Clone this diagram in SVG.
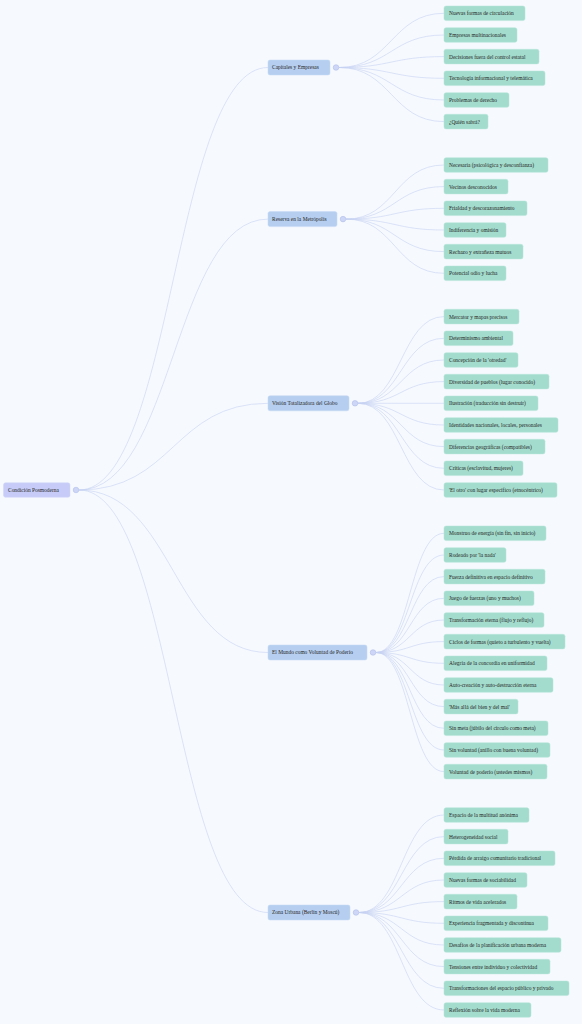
<svg xmlns="http://www.w3.org/2000/svg" width="582" height="1024" viewBox="0 0 582 1024">
<style>
.bg{fill:#f6f9fe}
.lk{fill:none;stroke:#c6d1f2;stroke-width:0.6}
.leaf rect{fill:#a3dccd;stroke:#b9e7db;stroke-width:0.5}
.l1 rect{fill:#b6cff0;stroke:#c4d8f4;stroke-width:0.5}
.root rect{fill:#c6ccf7;stroke:#d2d7fa;stroke-width:0.5}
.dot{fill:#cdd6f6;stroke:#a9b7e6;stroke-width:0.5}
text{font-family:"Liberation Serif","Times New Roman",serif;font-size:5.45px;fill:#262626}
</style>
<rect class="bg" x="0" y="0" width="582" height="1024"/>
<g id="connectors">
<path class="lk" d="M79 490 C173.5 490 173.5 67.5 268 67.5"/>
<path class="lk" d="M79 490 C173.5 490 173.5 219.1 268 219.1"/>
<path class="lk" d="M79 490 C173.5 490 173.5 403.3 268 403.3"/>
<path class="lk" d="M79 490 C173.5 490 173.5 652.5 268 652.5"/>
<path class="lk" d="M79 490 C173.5 490 173.5 912.5 268 912.5"/>
<path class="lk" d="M339 67.5 C391.5 67.5 391.5 13.3 444 13.3"/>
<path class="lk" d="M339 67.5 C391.5 67.5 391.5 35 444 35"/>
<path class="lk" d="M339 67.5 C391.5 67.5 391.5 56.6 444 56.6"/>
<path class="lk" d="M339 67.5 C391.5 67.5 391.5 78.3 444 78.3"/>
<path class="lk" d="M339 67.5 C391.5 67.5 391.5 100 444 100"/>
<path class="lk" d="M339 67.5 C391.5 67.5 391.5 121.6 444 121.6"/>
<path class="lk" d="M346 219.1 C395 219.1 395 165 444 165"/>
<path class="lk" d="M346 219.1 C395 219.1 395 186.6 444 186.6"/>
<path class="lk" d="M346 219.1 C395 219.1 395 208.3 444 208.3"/>
<path class="lk" d="M346 219.1 C395 219.1 395 230 444 230"/>
<path class="lk" d="M346 219.1 C395 219.1 395 251.6 444 251.6"/>
<path class="lk" d="M346 219.1 C395 219.1 395 273.3 444 273.3"/>
<path class="lk" d="M358 403.3 C401 403.3 401 316.6 444 316.6"/>
<path class="lk" d="M358 403.3 C401 403.3 401 338.3 444 338.3"/>
<path class="lk" d="M358 403.3 C401 403.3 401 360 444 360"/>
<path class="lk" d="M358 403.3 C401 403.3 401 381.6 444 381.6"/>
<path class="lk" d="M358 403.3 C401 403.3 401 403.3 444 403.3"/>
<path class="lk" d="M358 403.3 C401 403.3 401 425 444 425"/>
<path class="lk" d="M358 403.3 C401 403.3 401 446.6 444 446.6"/>
<path class="lk" d="M358 403.3 C401 403.3 401 468.3 444 468.3"/>
<path class="lk" d="M358 403.3 C401 403.3 401 490 444 490"/>
<path class="lk" d="M376 652.5 C410 652.5 410 533.3 444 533.3"/>
<path class="lk" d="M376 652.5 C410 652.5 410 555 444 555"/>
<path class="lk" d="M376 652.5 C410 652.5 410 576.6 444 576.6"/>
<path class="lk" d="M376 652.5 C410 652.5 410 598.3 444 598.3"/>
<path class="lk" d="M376 652.5 C410 652.5 410 620 444 620"/>
<path class="lk" d="M376 652.5 C410 652.5 410 641.6 444 641.6"/>
<path class="lk" d="M376 652.5 C410 652.5 410 663.3 444 663.3"/>
<path class="lk" d="M376 652.5 C410 652.5 410 685 444 685"/>
<path class="lk" d="M376 652.5 C410 652.5 410 706.6 444 706.6"/>
<path class="lk" d="M376 652.5 C410 652.5 410 728.3 444 728.3"/>
<path class="lk" d="M376 652.5 C410 652.5 410 750 444 750"/>
<path class="lk" d="M376 652.5 C410 652.5 410 771.6 444 771.6"/>
<path class="lk" d="M359 912.5 C401.5 912.5 401.5 815 444 815"/>
<path class="lk" d="M359 912.5 C401.5 912.5 401.5 836.6 444 836.6"/>
<path class="lk" d="M359 912.5 C401.5 912.5 401.5 858.3 444 858.3"/>
<path class="lk" d="M359 912.5 C401.5 912.5 401.5 880 444 880"/>
<path class="lk" d="M359 912.5 C401.5 912.5 401.5 901.6 444 901.6"/>
<path class="lk" d="M359 912.5 C401.5 912.5 401.5 923.3 444 923.3"/>
<path class="lk" d="M359 912.5 C401.5 912.5 401.5 945 444 945"/>
<path class="lk" d="M359 912.5 C401.5 912.5 401.5 966.6 444 966.6"/>
<path class="lk" d="M359 912.5 C401.5 912.5 401.5 988.3 444 988.3"/>
<path class="lk" d="M359 912.5 C401.5 912.5 401.5 1010 444 1010"/>
</g>
<g id="root" class="root"><rect x="3.5" y="482.8" width="66.5" height="14.5" rx="2"/><text x="8" y="491.9">Condición Posmoderna</text><circle class="dot" cx="76" cy="490" r="2.8"/></g>
<g id="n1" class="l1"><rect x="268" y="60" width="62" height="15" rx="2"/><text x="272" y="69.4">Capitales y Empresas</text><circle class="dot" cx="336" cy="67.5" r="2.8"/></g>
<g id="n2" class="l1"><rect x="268" y="211.6" width="69" height="15" rx="2"/><text x="272" y="221">Reserva en la Metrópolis</text><circle class="dot" cx="343" cy="219.1" r="2.8"/></g>
<g id="n3" class="l1"><rect x="268" y="395.8" width="81" height="15" rx="2"/><text x="272" y="405.2">Visión Totalizadora del Globo</text><circle class="dot" cx="355" cy="403.3" r="2.8"/></g>
<g id="n4" class="l1"><rect x="268" y="645" width="99" height="15" rx="2"/><text x="272" y="654.4">El Mundo como Voluntad de Poderío</text><circle class="dot" cx="373" cy="652.5" r="2.8"/></g>
<g id="n5" class="l1"><rect x="268" y="905" width="82" height="15" rx="2"/><text x="272" y="914.4">Zona Urbana (Berlín y Moscú)</text><circle class="dot" cx="356" cy="912.5" r="2.8"/></g>
<g id="leaf1" class="leaf"><rect x="444" y="6" width="81" height="14.6" rx="2"/><text x="449" y="15.2">Nuevas formas de circulación</text></g>
<g id="leaf2" class="leaf"><rect x="444" y="27.7" width="73" height="14.6" rx="2"/><text x="449" y="36.9">Empresas multinacionales</text></g>
<g id="leaf3" class="leaf"><rect x="444" y="49.3" width="95" height="14.6" rx="2"/><text x="449" y="58.5">Decisiones fuera del control estatal</text></g>
<g id="leaf4" class="leaf"><rect x="444" y="71" width="101" height="14.6" rx="2"/><text x="449" y="80.2">Tecnología informacional y telemática</text></g>
<g id="leaf5" class="leaf"><rect x="444" y="92.7" width="65" height="14.6" rx="2"/><text x="449" y="101.9">Problemas de derecho</text></g>
<g id="leaf6" class="leaf"><rect x="444" y="114.3" width="44" height="14.6" rx="2"/><text x="449" y="123.5">¿Quién sabrá?</text></g>
<g id="leaf7" class="leaf"><rect x="444" y="157.7" width="104" height="14.6" rx="2"/><text x="449" y="166.9">Necesaria (psicológica y desconfianza)</text></g>
<g id="leaf8" class="leaf"><rect x="444" y="179.3" width="64" height="14.6" rx="2"/><text x="449" y="188.5">Vecinos desconocidos</text></g>
<g id="leaf9" class="leaf"><rect x="444" y="201" width="83" height="14.6" rx="2"/><text x="449" y="210.2">Frialdad y descorazonamiento</text></g>
<g id="leaf10" class="leaf"><rect x="444" y="222.7" width="62" height="14.6" rx="2"/><text x="449" y="231.9">Indiferencia y omisión</text></g>
<g id="leaf11" class="leaf"><rect x="444" y="244.3" width="79" height="14.6" rx="2"/><text x="449" y="253.5">Rechazo y extrañeza mutuos</text></g>
<g id="leaf12" class="leaf"><rect x="444" y="266" width="62" height="14.6" rx="2"/><text x="449" y="275.2">Potencial odio y lucha</text></g>
<g id="leaf13" class="leaf"><rect x="444" y="309.3" width="75" height="14.6" rx="2"/><text x="449" y="318.5">Mercator y mapas precisos</text></g>
<g id="leaf14" class="leaf"><rect x="444" y="331" width="69" height="14.6" rx="2"/><text x="449" y="340.2">Determinismo ambiental</text></g>
<g id="leaf15" class="leaf"><rect x="444" y="352.7" width="74" height="14.6" rx="2"/><text x="449" y="361.9">Concepción de la 'otredad'</text></g>
<g id="leaf16" class="leaf"><rect x="444" y="374.3" width="105" height="14.6" rx="2"/><text x="449" y="383.5">Diversidad de pueblos (lugar conocido)</text></g>
<g id="leaf17" class="leaf"><rect x="444" y="396" width="94" height="14.6" rx="2"/><text x="449" y="405.2">Ilustración (traducción sin destruir)</text></g>
<g id="leaf18" class="leaf"><rect x="444" y="417.7" width="114" height="14.6" rx="2"/><text x="449" y="426.9">Identidades nacionales, locales, personales</text></g>
<g id="leaf19" class="leaf"><rect x="444" y="439.3" width="101" height="14.6" rx="2"/><text x="449" y="448.5">Diferencias geográficas (compatibles)</text></g>
<g id="leaf20" class="leaf"><rect x="444" y="461" width="79" height="14.6" rx="2"/><text x="449" y="470.2">Críticas (esclavitud, mujeres)</text></g>
<g id="leaf21" class="leaf"><rect x="444" y="482.7" width="113" height="14.6" rx="2"/><text x="449" y="491.9">'El otro' con lugar específico (etnocéntrico)</text></g>
<g id="leaf22" class="leaf"><rect x="444" y="526" width="102" height="14.6" rx="2"/><text x="449" y="535.2">Monstruo de energía (sin fin, sin inicio)</text></g>
<g id="leaf23" class="leaf"><rect x="444" y="547.7" width="62" height="14.6" rx="2"/><text x="449" y="556.9">Rodeado por 'la nada'</text></g>
<g id="leaf24" class="leaf"><rect x="444" y="569.3" width="101" height="14.6" rx="2"/><text x="449" y="578.5">Fuerza definitiva en espacio definitivo</text></g>
<g id="leaf25" class="leaf"><rect x="444" y="591" width="90" height="14.6" rx="2"/><text x="449" y="600.2">Juego de fuerzas (uno y muchos)</text></g>
<g id="leaf26" class="leaf"><rect x="444" y="612.7" width="100" height="14.6" rx="2"/><text x="449" y="621.9">Transformación eterna (flujo y reflujo)</text></g>
<g id="leaf27" class="leaf"><rect x="444" y="634.3" width="121" height="14.6" rx="2"/><text x="449" y="643.5">Ciclos de formas (quieto a turbulento y vuelta)</text></g>
<g id="leaf28" class="leaf"><rect x="444" y="656" width="103" height="14.6" rx="2"/><text x="449" y="665.2">Alegría de la concordia en uniformidad</text></g>
<g id="leaf29" class="leaf"><rect x="444" y="677.7" width="109" height="14.6" rx="2"/><text x="449" y="686.9">Auto-creación y auto-destrucción eterna</text></g>
<g id="leaf30" class="leaf"><rect x="444" y="699.3" width="74" height="14.6" rx="2"/><text x="449" y="708.5">'Más allá del bien y del mal'</text></g>
<g id="leaf31" class="leaf"><rect x="444" y="721" width="104" height="14.6" rx="2"/><text x="449" y="730.2">Sin meta (júbilo del círculo como meta)</text></g>
<g id="leaf32" class="leaf"><rect x="444" y="742.7" width="106" height="14.6" rx="2"/><text x="449" y="751.9">Sin voluntad (anillo con buena voluntad)</text></g>
<g id="leaf33" class="leaf"><rect x="444" y="764.3" width="103" height="14.6" rx="2"/><text x="449" y="773.5">Voluntad de poderío (ustedes mismos)</text></g>
<g id="leaf34" class="leaf"><rect x="444" y="807.7" width="85" height="14.6" rx="2"/><text x="449" y="816.9">Espacio de la multitud anónima</text></g>
<g id="leaf35" class="leaf"><rect x="444" y="829.3" width="64" height="14.6" rx="2"/><text x="449" y="838.5">Heterogeneidad social</text></g>
<g id="leaf36" class="leaf"><rect x="444" y="851" width="111" height="14.6" rx="2"/><text x="449" y="860.2">Pérdida de arraigo comunitario tradicional</text></g>
<g id="leaf37" class="leaf"><rect x="444" y="872.7" width="83" height="14.6" rx="2"/><text x="449" y="881.9">Nuevas formas de sociabilidad</text></g>
<g id="leaf38" class="leaf"><rect x="444" y="894.3" width="73" height="14.6" rx="2"/><text x="449" y="903.5">Ritmos de vida acelerados</text></g>
<g id="leaf39" class="leaf"><rect x="444" y="916" width="104" height="14.6" rx="2"/><text x="449" y="925.2">Experiencia fragmentada y discontinua</text></g>
<g id="leaf40" class="leaf"><rect x="444" y="937.7" width="117" height="14.6" rx="2"/><text x="449" y="946.9">Desafíos de la planificación urbana moderna</text></g>
<g id="leaf41" class="leaf"><rect x="444" y="959.3" width="106" height="14.6" rx="2"/><text x="449" y="968.5">Tensiones entre individuo y colectividad</text></g>
<g id="leaf42" class="leaf"><rect x="444" y="981" width="125" height="14.6" rx="2"/><text x="449" y="990.2">Transformaciones del espacio público y privado</text></g>
<g id="leaf43" class="leaf"><rect x="444" y="1002.7" width="87" height="14.6" rx="2"/><text x="449" y="1011.9">Reflexión sobre la vida moderna</text></g>
</svg>
